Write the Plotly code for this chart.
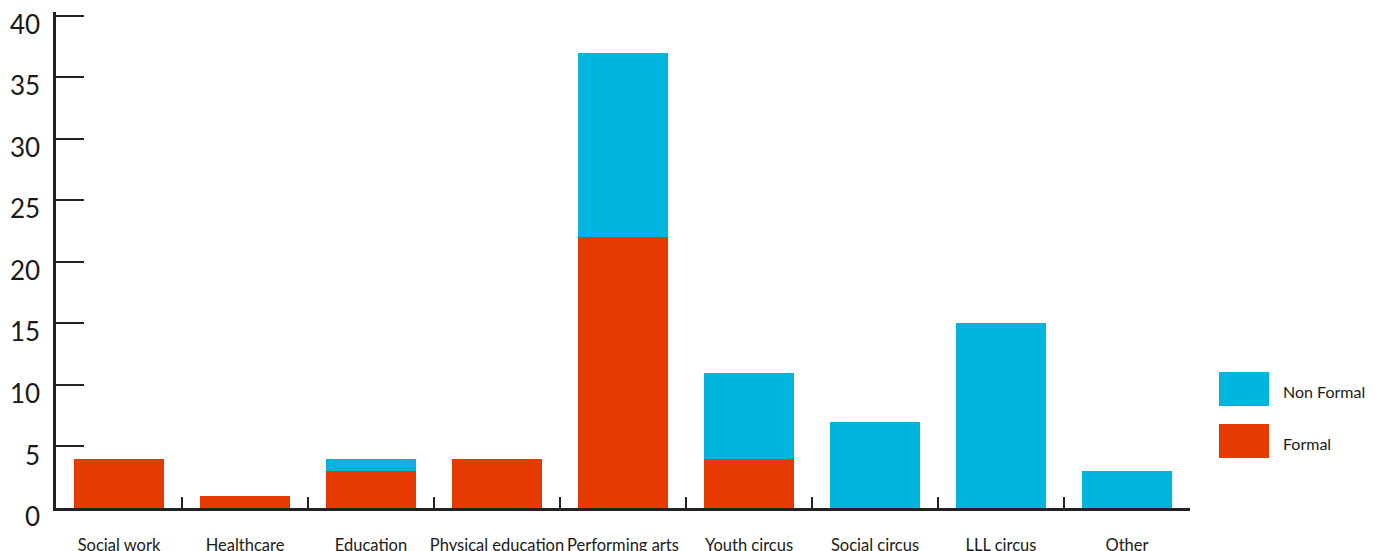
import plotly.graph_objects as go

categories = ["Social work", "Healthcare", "Education", "Physical education",
              "Performing arts", "Youth circus", "Social circus", "LLL circus", "Other"]
formal = [4, 1, 3, 4, 22, 4, 0, 0, 0]
non_formal = [0, 0, 1, 0, 15, 7, 7, 15, 3]
y_ticks = [0, 5, 10, 15, 20, 25, 30, 35, 40]

FORMAL_COLOR = "#E63A00"
NONFORMAL_COLOR = "#00B5DD"
FONT = "Lato, 'Open Sans', sans-serif"

fig = go.Figure()
fig.add_trace(go.Bar(x=categories, y=formal, name="Formal",
                     marker=dict(color=FORMAL_COLOR, line=dict(width=0))))
fig.add_trace(go.Bar(x=categories, y=non_formal, name="Non Formal",
                     marker=dict(color=NONFORMAL_COLOR, line=dict(width=0))))

# page body has an 8px margin, so the figure is slightly smaller than the window
OFF = 8
W, H = 1375 - OFF, 551 - OFF
Y_TOP = 40.3
# in window pixels: y-axis at x=56, plot right at 1190, value 0 at y=508, 40 at y=16
ppu = (508 - 16) / 40.0
ml = 56 - OFF
mr = W - (1190 - OFF)
mb = H - (508 - OFF)
mt = (16 - OFF) - (Y_TOP - 40) * ppu
PW, PH = W - ml - mr, H - mt - mb

fig.update_layout(
    width=W, height=H,
    barmode="stack", bargap=0.286,
    margin=dict(l=ml, r=mr, t=mt, b=mb, pad=0, autoexpand=False),
    paper_bgcolor="white", plot_bgcolor="white",
    showlegend=False,
    font=dict(family=FONT, color="#1a1a1a"),
    xaxis=dict(
        type="category", showgrid=False, zeroline=False, automargin=False,
        showline=True, linecolor="#222", linewidth=2.5,
        ticks="inside", tickson="boundaries", ticklen=11, tickwidth=2, tickcolor="#222",
        tickfont=dict(size=16.5, family=FONT, color="#1a1a1a"),
        tickangle=0, ticklabelstandoff=20, ticklabeloverflow="allow",
    ),
    yaxis=dict(
        range=[0, Y_TOP], tickvals=y_ticks, showgrid=False, zeroline=False, automargin=False,
        showline=True, linecolor="#222", linewidth=2.5,
        ticks="inside", ticklen=28, tickwidth=2, tickcolor="#222",
        tickfont=dict(size=26, family=FONT, color="#1a1a1a"),
        ticklabelstandoff=8, ticklabelshift=9, ticklabeloverflow="allow",
    ),
)

# custom legend (large swatches as in the reference), positions in window pixels
def fx(px):
    return (px - OFF - ml) / PW
def fy(py):
    return (H - mb - (py - OFF)) / PH

legend_items = [("Non Formal", NONFORMAL_COLOR, 372), ("Formal", FORMAL_COLOR, 424)]
for label, color, top in legend_items:
    fig.add_shape(type="rect", xref="paper", yref="paper",
                  x0=fx(1219), x1=fx(1269), y0=fy(top + 34), y1=fy(top),
                  fillcolor=color, line=dict(width=0))
    fig.add_annotation(xref="paper", yref="paper",
                       x=fx(1281), y=fy(top + 20),
                       text=label, showarrow=False, xanchor="left", yanchor="middle",
                       font=dict(size=16, family=FONT, color="#1a1a1a"))

fig.write_html("out.html")
